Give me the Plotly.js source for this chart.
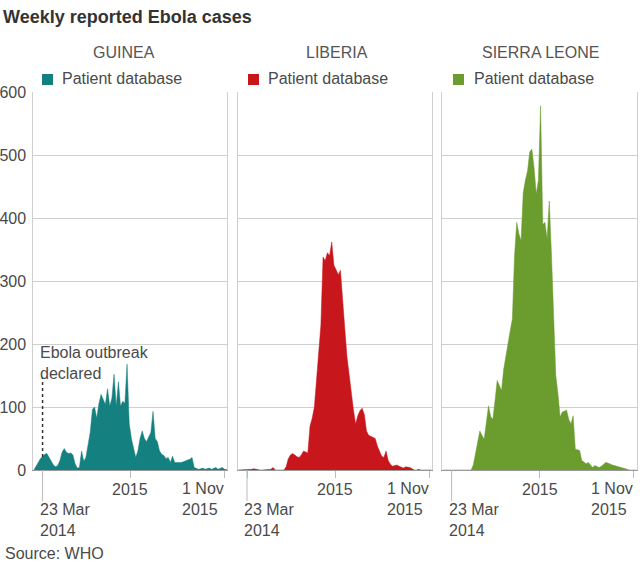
<!DOCTYPE html>
<html>
<head>
<meta charset="utf-8">
<script src="https://cdn.plot.ly/plotly-3.0.1.min.js"></script>
<style>html,body{margin:0;padding:0;background:#fff;}#chart{width:640px;height:568px;}</style>
</head>
<body>
<div id="chart"></div>
<script>
// ---- data (weekly reported cases) ----
const firstWeek = '2014-02-23';   // weekly series start, one point per week
const countries = ['GUINEA', 'LIBERIA', 'SIERRA LEONE'];
const seriesName = 'Patient database';

const guinea = [0,
  5, 12, 18, 22, 25, 26, 20, 14, 8, 5,
  7, 15, 28, 34, 28, 26, 27, 24, 10, 3,
  4, 30, 14, 20, 40, 60, 96, 100, 82, 105,
  120, 112, 104, 129, 101, 114, 152, 101, 140, 101,
  109, 106, 168, 74, 50, 35, 20, 30, 50, 62,
  50, 45, 52, 60, 93, 50, 45, 30, 25, 23,
  18, 20, 12, 22, 12, 12, 11, 12, 13, 15,
  16, 17, 20, 4, 2, 1, 2, 3, 1, 2,
  3, 1, 2, 4, 1, 3, 4, 1, 1];
const liberia = [0,
  0, 0, 0, 0, 1, 1, 2, 1, 0, 0,
  0, 0, 0, 0, 1, 4, 0, 0, 0, 0,
  0, 5, 18, 24, 26, 24, 21, 20, 24, 30,
  29, 27, 70, 82, 100, 146, 190, 230, 338, 332,
  345, 340, 362, 325, 318, 310, 317, 265, 225, 180,
  150, 125, 95, 73, 86, 94, 98, 88, 62, 55,
  53, 52, 50, 38, 30, 22, 20, 30, 15, 9,
  6, 7, 8, 6, 4, 3, 5, 5, 4, 2,
  0, 0, 1, 0, 0, 1, 0, 0, 0];
const sierraLeone = [0,
  0, 0, 0, 0, 0, 0, 0, 0, 0, 0,
  0, 0, 0, 8, 25, 40, 62, 55, 49, 75,
  102, 85, 80, 110, 142, 134, 126, 160, 182, 200,
  221, 240, 340, 393, 375, 364, 440, 460, 475, 505,
  509, 480, 438, 460, 578, 390, 393, 367, 427, 343,
  250, 150, 121, 84, 92, 94, 95, 80, 73, 86,
  33, 32, 31, 15, 12, 10, 12, 8, 4, 7,
  5, 4, 6, 9, 12, 11, 9, 8, 7, 6,
  5, 4, 2, 1, 0, 0, 0, 0, 0];

const colors = ['#14807f', '#c8161d', '#6a9c2e'];
const seriesValues = [guinea, liberia, sierraLeone];

const tickDates = ['2014-03-23', '2015-01-01', '2015-11-01'];
const tickLabels = ['23 Mar<br>2014', '2015', '1 Nov<br>2015'];
const yTicks = [0, 100, 200, 300, 400, 500, 600];
const xRange = ['2014-02-21', '2015-11-10'];
const outbreakDate = '2014-03-23';
const outbreakText = 'Ebola outbreak<br>declared';

// weekly x positions
function weekDates(start, n) {
  const out = [];
  const d0 = new Date(start + 'T00:00:00Z');
  for (let i = 0; i < n; i++) {
    const d = new Date(d0.getTime() + i * 7 * 86400000);
    out.push(d.toISOString().slice(0, 10));
  }
  return out;
}

// ---- geometry ----
const W = 640, H = 568;
const M = {l: 33, r: 3, t: 92, b: 98};
const PW = W - M.l - M.r, PH = H - M.t - M.b;
const px = x => (x - M.l) / PW;        // pixel x -> paper
const py = y => (M.t + PH - y) / PH;   // pixel y -> paper
const panelPx = [[33.3, 227.3], [237.7, 432.3], [442.3, 636.7]];
const titleCx = [124, 337, 540];
const swatchX = [42, 248, 453];
const legendTextX = [60, 266, 472];

const textColor = '#4a4a4a';
const font = 'Liberation Sans, Arial, Helvetica, sans-serif';

const traces = seriesValues.map((vals, k) => ({
  type: 'scatter', mode: 'lines',
  x: weekDates(firstWeek, vals.length), y: vals,
  fill: 'tozeroy', fillcolor: colors[k],
  line: {color: colors[k], width: 0.5, shape: 'linear'},
  xaxis: k === 0 ? 'x' : 'x' + (k + 1),
  yaxis: k === 0 ? 'y' : 'y' + (k + 1),
  name: seriesName, showlegend: false, hoverinfo: 'skip'
}));

const layout = {
  width: W, height: H, margin: M,
  paper_bgcolor: '#fff', plot_bgcolor: '#fff',
  font: {family: font, size: 16, color: textColor},
  showlegend: false,
  title: {text: 'Weekly reported Ebola cases', x: 3 / W, xanchor: 'left', xref: 'container',
          y: 1 - 17 / H, yanchor: 'middle', yref: 'container',
          font: {family: font, size: 18, color: '#333', weight: 'bold'}},
  annotations: [], shapes: []
};

for (let k = 0; k < 3; k++) {
  const xs = k === 0 ? '' : String(k + 1);
  layout['xaxis' + xs] = {
    type: 'date', range: xRange, domain: [px(panelPx[k][0]), px(panelPx[k][1])],
    anchor: 'y' + xs, tickvals: tickDates, showticklabels: false,
    ticks: 'outside', ticklen: 7, tickcolor: '#bbb', tickwidth: 1,
    showgrid: false, showline: true, linecolor: '#999', linewidth: 1, zeroline: false,
    fixedrange: true
  };
  layout['yaxis' + xs] = {
    range: [0, 600], tickvals: yTicks, anchor: 'x' + xs,
    showticklabels: k === 0, ticks: '', ticklabelstandoff: 3,
    tickfont: {size: 16, color: textColor},
    showgrid: true, gridcolor: '#cfcfcf', gridwidth: 1,
    showline: true, mirror: true, linecolor: '#cfcfcf', linewidth: 1, zeroline: false,
    fixedrange: true
  };
  // panel title
  layout.annotations.push({text: countries[k], xref: 'paper', yref: 'paper',
    x: px(titleCx[k]), y: py(52), xanchor: 'center', yanchor: 'middle', showarrow: false,
    font: {size: 16, color: '#555'}});
  // legend label
  layout.annotations.push({text: seriesName, xref: 'paper', yref: 'paper',
    x: px(legendTextX[k]), y: py(79), xanchor: 'left', yanchor: 'middle', showarrow: false,
    font: {size: 16, color: textColor}});
  layout.shapes.push({type: 'rect', xref: 'paper', yref: 'paper',
    x0: px(swatchX[k]), x1: px(swatchX[k] + 11), y0: py(85), y1: py(74),
    fillcolor: colors[k], line: {width: 0}});
  // x tick labels
  const xr = 'x' + xs;
  layout.annotations.push({text: tickLabels[0], xref: xr, yref: 'paper',
    x: tickDates[0], xanchor: 'left', xshift: -5, y: py(520), yanchor: 'middle',
    align: 'left', showarrow: false});
  layout.annotations.push({text: tickLabels[1], xref: xr, yref: 'paper',
    x: tickDates[1], xanchor: 'center', y: py(489), yanchor: 'middle', showarrow: false});
  layout.annotations.push({text: tickLabels[2], xref: xr, yref: 'paper',
    x: tickDates[2], xanchor: 'right', xshift: 1, y: py(499), yanchor: 'middle',
    align: 'left', showarrow: false});
  layout.shapes.push({type: 'line', xref: xr, yref: 'paper',
    x0: tickDates[0], x1: tickDates[0], y0: py(470), y1: py(501),
    line: {color: '#bbb', width: 1}});
}

// outbreak marker
layout.annotations.push({text: outbreakText, xref: 'x', yref: 'paper',
  x: outbreakDate, xanchor: 'left', xshift: -5, y: py(363), yanchor: 'middle',
  align: 'left', showarrow: false, font: {size: 16, color: textColor}});
layout.shapes.push({type: 'line', xref: 'x', yref: 'paper',
  x0: outbreakDate, x1: outbreakDate, y0: py(457), y1: py(378),
  line: {color: '#333', width: 1.5, dash: 'dot'}});

// source
layout.annotations.push({text: 'Source: WHO', xref: 'paper', yref: 'paper',
  x: px(3), y: py(553), xanchor: 'left', yanchor: 'middle', showarrow: false,
  font: {size: 16, color: textColor}});

Plotly.newPlot('chart', traces, layout, {displayModeBar: false, staticPlot: true});
</script>
</body>
</html>
